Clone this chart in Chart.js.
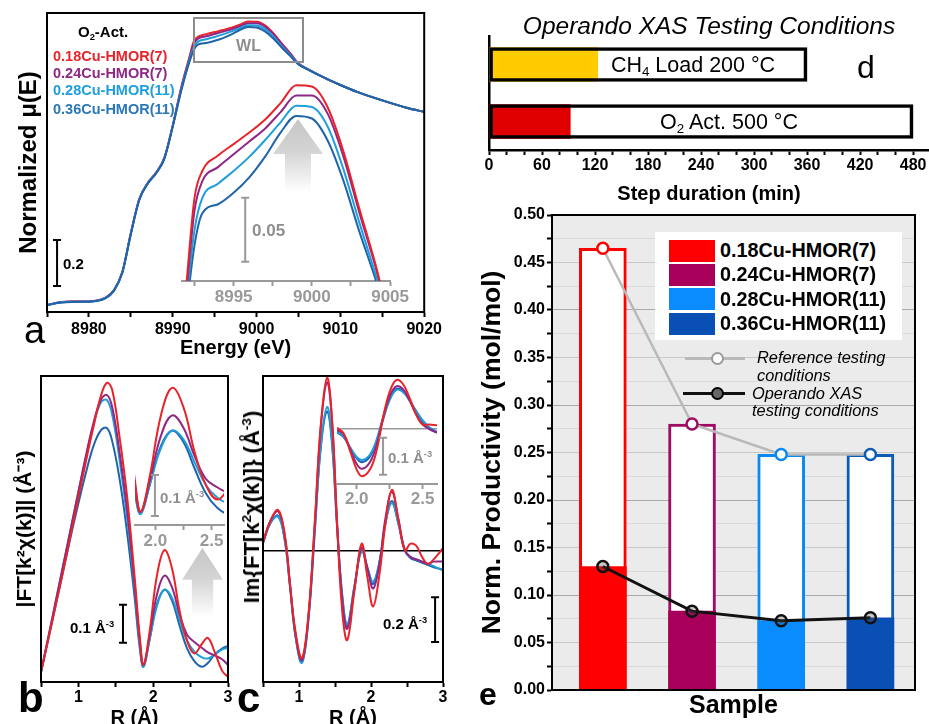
<!DOCTYPE html>
<html>
<head>
<meta charset="utf-8">
<script src="https://cdn.jsdelivr.net/npm/chart.js@4.4.1/dist/chart.umd.min.js"></script>
<style>
html, body { margin: 0; padding: 0; background: #fff; }
#fig { position: relative; width: 929px; height: 724px; overflow: hidden; font-family: 'Liberation Sans', Arial, Helvetica, sans-serif; }
#fig canvas { position: absolute; }
.t { position: absolute; white-space: nowrap; line-height: 1; font-weight: bold; }
.t sub { font-size: 0.62em; vertical-align: -0.3em; line-height: 0; }
.t sup { font-size: 0.62em; vertical-align: 0.6em; line-height: 0; }
.gray { color: #8f8f8f; }
.box { position: absolute; box-sizing: border-box; }
.arrow { position: absolute; background: linear-gradient(#c6c6c6, #d4d4d4 45%, #ffffff); }
</style>
</head>
<body>
<div id="fig">
  <canvas id="aMain" width="445" height="360" style="left:0;top:0"></canvas>
  <canvas id="aInset" width="240" height="255" style="left:170px;top:60px"></canvas>
  <canvas id="bMain" width="236" height="368" style="left:0;top:362px"></canvas>
  <canvas id="bInset" width="110" height="190" style="left:125px;top:370px"></canvas>
  <canvas id="cMain" width="215" height="368" style="left:236px;top:362px"></canvas>
  <canvas id="cInset" width="120" height="150" style="left:327px;top:370px"></canvas>
  <canvas id="dChart" width="459" height="206" style="left:470px;top:0"></canvas>
  <canvas id="eChart" width="459" height="528" style="left:470px;top:196px"></canvas>

  <!-- panel a annotations -->
  <div class="box" style="left:193px;top:17px;width:111px;height:46px;border:2px solid #8c8c8c"></div>
  <div class="t gray" style="left:193px;top:38px;width:111px;text-align:center;font-size:16px">WL</div>
  <div class="arrow" style="left:273px;top:119px;width:50px;height:73px;clip-path:polygon(50% 0,100% 48%,76% 48%,76% 100%,24% 100%,24% 48%,0 48%)"></div>
  <div class="t" style="left:78px;top:24px;font-size:15px">O<sub>2</sub>-Act.</div>
  <div class="t" style="left:53px;top:49px;font-size:14.5px;color:#e8232a">0.18Cu-HMOR(7)</div>
  <div class="t" style="left:53px;top:65.5px;font-size:14.5px;color:#8e2785">0.24Cu-HMOR(7)</div>
  <div class="t" style="left:53px;top:83px;font-size:14.5px;color:#1e9fdc">0.28Cu-HMOR(11)</div>
  <div class="t" style="left:53px;top:101.5px;font-size:14.5px;color:#2a78b8">0.36Cu-HMOR(11)</div>
  <div class="t" style="left:63px;top:256px;font-size:15px">0.2</div>
  <div class="t gray" style="left:252px;top:222px;font-size:17px">0.05</div>
  <div class="t" style="left:24px;top:311px;font-size:38px;font-weight:normal">a</div>

  <!-- panel b / c annotations -->
  <div class="arrow" style="left:182px;top:548px;width:41px;height:69px;clip-path:polygon(50% 0,100% 46%,76% 46%,76% 100%,24% 100%,24% 46%,0 46%)"></div>
  <div class="t" style="left:70px;top:620px;font-size:15px">0.1 Å<sup>-3</sup></div>
  <div class="t gray" style="left:160px;top:490px;font-size:15px">0.1 Å<sup>-3</sup></div>
  <div class="t" style="left:383px;top:616px;font-size:15px">0.2 Å<sup>-3</sup></div>
  <div class="t gray" style="left:388px;top:450px;font-size:15px">0.1 Å<sup>-3</sup></div>
  <div class="t" style="left:252px;top:507px;transform:translate(-50%,-50%) rotate(-90deg);font-size:22px">Im{FT[k<sup>2</sup>χ(k)]} (Å<sup>-3</sup>)</div>
  <div class="t" style="left:18px;top:677px;font-size:42px">b</div>
  <div class="t" style="left:237px;top:677px;font-size:42px">c</div>

  <!-- panel d annotations -->
  <div class="t" style="left:709px;top:14px;transform:translateX(-50%);font-size:24.5px;font-weight:normal;font-style:italic">Operando XAS Testing Conditions</div>
  <div class="t" style="left:693px;top:54.5px;transform:translateX(-50%);font-size:21.5px;font-weight:normal">CH<sub>4</sub> Load 200 °C</div>
  <div class="t" style="left:729px;top:111.5px;transform:translateX(-50%);font-size:21.5px;font-weight:normal">O<sub>2</sub> Act. 500 °C</div>
  <div class="t" style="left:857px;top:51px;font-size:32px;font-weight:normal">d</div>

  <!-- panel e legend -->
  <div class="box" style="left:655px;top:232px;width:247px;height:108px;background:#fff"></div>
  <div class="box" style="left:669px;top:239.5px;width:46px;height:22px;background:#ff0000"></div>
  <div class="box" style="left:669px;top:263.5px;width:46px;height:22px;background:#a8005a"></div>
  <div class="box" style="left:669px;top:288px;width:46px;height:22px;background:#0a8cff"></div>
  <div class="box" style="left:669px;top:312.5px;width:46px;height:22px;background:#0a50b4"></div>
  <div class="t" style="left:720px;top:241px;font-size:19.8px">0.18Cu-HMOR(7)</div>
  <div class="t" style="left:720px;top:265px;font-size:19.8px">0.24Cu-HMOR(7)</div>
  <div class="t" style="left:720px;top:290px;font-size:19.8px">0.28Cu-HMOR(11)</div>
  <div class="t" style="left:720px;top:314px;font-size:19.8px">0.36Cu-HMOR(11)</div>
  <div class="box" style="left:685px;top:357px;width:60px;height:3px;background:#b9b9b9"></div>
  <div class="box" style="left:710.5px;top:352px;width:13px;height:13px;border:2.5px solid #9a9a9a;border-radius:50%;background:#fff"></div>
  <div class="box" style="left:683px;top:391.5px;width:62px;height:3px;background:#111"></div>
  <div class="box" style="left:710.5px;top:386.5px;width:13px;height:13px;border:2.5px solid #000;border-radius:50%;background:#666"></div>
  <div class="t" style="left:757px;top:349px;font-size:16.4px;font-weight:normal;font-style:italic">Reference testing</div>
  <div class="t" style="left:757px;top:367px;font-size:16.4px;font-weight:normal;font-style:italic">conditions</div>
  <div class="t" style="left:752px;top:385px;font-size:16.4px;font-weight:normal;font-style:italic">Operando XAS</div>
  <div class="t" style="left:752px;top:402px;font-size:16.4px;font-weight:normal;font-style:italic">testing conditions</div>
  <div class="t" style="left:479px;top:678px;font-size:32px">e</div>
</div>

<script>
// series shared by panels a-c and e
const seriesNames = ['0.18Cu-HMOR(7)', '0.24Cu-HMOR(7)', '0.28Cu-HMOR(11)', '0.36Cu-HMOR(11)'];
const seriesColors = ['#e8232a', '#8e2785', '#1e9fdc', '#1f64a8'];

// a: XANES, normalized mu(E)
const energy = [8975, 8976.5, 8978, 8980, 8982, 8983, 8984, 8985, 8986, 8987, 8988, 8989, 8990, 8991, 8992, 8992.5,
  8993, 8994, 8995, 8996, 8997, 8998, 8999, 9000, 9001, 9002, 9003, 9004, 9005, 9006, 9008, 9010, 9012, 9015, 9018, 9020];
const muRed = [0.000, 0.012, 0.016, 0.016, 0.032, 0.065, 0.145, 0.312, 0.460, 0.530, 0.575, 0.640, 0.780, 0.945, 1.080, 1.145,
  1.166, 1.178, 1.187, 1.196, 1.206, 1.219, 1.233, 1.232, 1.216, 1.182, 1.138, 1.096, 1.050, 1.028, 0.990, 0.957, 0.927, 0.890, 0.857, 0.840];
const muPurple = [0.000, 0.012, 0.016, 0.016, 0.032, 0.065, 0.145, 0.312, 0.460, 0.530, 0.575, 0.640, 0.780, 0.940, 1.074, 1.135,
  1.158, 1.169, 1.179, 1.189, 1.199, 1.212, 1.225, 1.225, 1.211, 1.178, 1.135, 1.094, 1.050, 1.028, 0.990, 0.957, 0.927, 0.890, 0.857, 0.840];
const muLight = [0.000, 0.011, 0.015, 0.015, 0.031, 0.064, 0.144, 0.310, 0.458, 0.528, 0.573, 0.638, 0.778, 0.935, 1.066, 1.120,
  1.145, 1.156, 1.166, 1.177, 1.190, 1.204, 1.217, 1.216, 1.201, 1.168, 1.127, 1.088, 1.048, 1.027, 0.990, 0.957, 0.927, 0.890, 0.857, 0.840];
const muDark = [0.000, 0.010, 0.014, 0.015, 0.030, 0.063, 0.143, 0.308, 0.456, 0.527, 0.572, 0.636, 0.776, 0.930, 1.058, 1.108,
  1.133, 1.140, 1.149, 1.161, 1.177, 1.196, 1.209, 1.207, 1.190, 1.159, 1.120, 1.084, 1.046, 1.026, 0.990, 0.957, 0.927, 0.890, 0.857, 0.840];

// b: |FT[k2 chi(k)]|
const rFT = [0.5, 0.6, 0.7, 0.8, 0.9, 1.0, 1.1, 1.2, 1.3, 1.38, 1.45, 1.55, 1.65, 1.75, 1.82, 1.87, 1.95, 2.05, 2.15, 2.25,
  2.35, 2.45, 2.55, 2.65, 2.73, 2.82, 2.92, 3.0];
const ftRed = [0.026, 0.115, 0.205, 0.295, 0.39, 0.485, 0.58, 0.67, 0.752, 0.787, 0.77, 0.645, 0.49, 0.28, 0.12, 0.045, 0.13, 0.28,
  0.347, 0.30, 0.19, 0.11, 0.075, 0.10, 0.116, 0.08, 0.03, 0.013];
const ftPurple = [0.026, 0.12, 0.215, 0.31, 0.405, 0.5, 0.595, 0.68, 0.742, 0.755, 0.725, 0.605, 0.455, 0.26, 0.11, 0.045, 0.12, 0.23,
  0.28, 0.25, 0.18, 0.125, 0.105, 0.09, 0.078, 0.07, 0.06, 0.045];
const ftLight = [0.026, 0.12, 0.215, 0.31, 0.405, 0.5, 0.59, 0.675, 0.735, 0.742, 0.705, 0.585, 0.435, 0.25, 0.10, 0.04, 0.11, 0.20,
  0.243, 0.222, 0.165, 0.11, 0.08, 0.065, 0.062, 0.072, 0.085, 0.09];
const ftDark = [0.026, 0.115, 0.205, 0.295, 0.385, 0.47, 0.55, 0.62, 0.662, 0.668, 0.635, 0.535, 0.395, 0.225, 0.09, 0.04, 0.11, 0.205,
  0.243, 0.215, 0.15, 0.09, 0.055, 0.04, 0.05, 0.072, 0.088, 0.095];

// c: Im{FT[k2 chi(k)]}
const rIm = [0.5, 0.6, 0.71, 0.8, 0.875, 0.95, 1.04, 1.13, 1.22, 1.3, 1.39, 1.46, 1.53, 1.6, 1.67, 1.77, 1.87, 1.95, 2.03, 2.12,
  2.2, 2.29, 2.38, 2.47, 2.55, 2.63, 2.71, 2.79, 2.87, 3.0];
const imRed = [0.035, 0.13, 0.18, 0.075, -0.15, -0.36, -0.48, -0.29, 0.13, 0.55, 0.77, 0.58, 0.11, -0.27, -0.40, -0.18, 0.03, -0.12,
  -0.25, -0.10, 0.12, 0.27, 0.14, 0.0, 0.03, 0.02, -0.03, -0.06, -0.04, 0.01];
const imPurple = [0.035, 0.13, 0.175, 0.07, -0.15, -0.37, -0.49, -0.30, 0.12, 0.54, 0.75, 0.57, 0.12, -0.22, -0.35, -0.17, 0.013, -0.08,
  -0.17, -0.055, 0.143, 0.26, 0.14, 0.0, -0.03, -0.04, -0.05, -0.06, -0.05, -0.05];
const imLight = [0.035, 0.12, 0.15, 0.05, -0.16, -0.38, -0.50, -0.31, 0.09, 0.46, 0.64, 0.48, 0.10, -0.20, -0.33, -0.16, 0.0, -0.075,
  -0.14, -0.045, 0.12, 0.21, 0.12, 0.0, -0.03, -0.04, -0.05, -0.06, -0.07, -0.09];
const imDark = [0.035, 0.12, 0.155, 0.05, -0.16, -0.38, -0.50, -0.31, 0.09, 0.45, 0.62, 0.47, 0.10, -0.20, -0.34, -0.16, 0.0, -0.08,
  -0.15, -0.05, 0.12, 0.22, 0.12, 0.0, -0.035, -0.045, -0.055, -0.065, -0.075, -0.085];

// c inset
const rImZoom = [1.85, 1.9, 1.95, 2.0, 2.04, 2.1, 2.15, 2.2, 2.25, 2.3, 2.35, 2.4, 2.45, 2.5, 2.55, 2.61];
const izRed = [0.003, -0.012, -0.06, -0.11, -0.128, -0.11, -0.06, 0.03, 0.10, 0.132, 0.122, 0.085, 0.04, 0.012, 0.012, 0.01];
const izPurple = [-0.003, -0.015, -0.055, -0.095, -0.108, -0.09, -0.045, 0.03, 0.088, 0.115, 0.108, 0.078, 0.04, 0.012, 0.0, -0.01];
const izLight = [-0.008, -0.02, -0.05, -0.076, -0.084, -0.07, -0.03, 0.03, 0.078, 0.105, 0.10, 0.078, 0.05, 0.024, 0.005, -0.008];
const izDark = [-0.01, -0.022, -0.052, -0.08, -0.09, -0.075, -0.035, 0.025, 0.08, 0.108, 0.103, 0.078, 0.047, 0.02, 0.0, -0.01];

// d: operando XAS steps (min)
const steps = ['CH4 Load 200 °C', 'O2 Act. 500 °C'];
const stepTotal = [360, 480];
const stepRamp = [123, 92];
const stepColors = ['#ffcc00', '#e00000'];

// e: normalized productivity (mol/mol)
const refProd = [0.465, 0.28, 0.248, 0.248];
const operandoProd = [0.13, 0.083, 0.073, 0.076];
const outlineColors = ['#ff0000', '#9e0d62', '#0a8af0', '#0a5cb4'];
const fillColors = ['#ff0000', '#a8005a', '#0a8cff', '#0a50b4'];

const FONT = "'Liberation Sans', Arial, Helvetica, sans-serif";
Chart.defaults.font.family = FONT;
Chart.defaults.color = '#000';
Chart.defaults.animation = false;
Chart.defaults.events = [];
Chart.defaults.plugins.legend.display = false;
Chart.defaults.plugins.tooltip.enabled = false;

function isMultiple(v, m) {
	return Math.abs(v / m - Math.round(v / m)) < 1e-6;
}

// box around the plot area
const framePlugin = {
	id: 'frame',
	afterDraw(chart, args, opts) {
		if (!opts || !opts.color) return;
		const { ctx, chartArea: a } = chart;
		ctx.save();
		ctx.strokeStyle = opts.color;
		ctx.lineWidth = 2;
		ctx.strokeRect(a.left, a.top, a.right - a.left, a.bottom - a.top);
		ctx.restore();
	}
};

const plotBgPlugin = {
	id: 'plotBg',
	beforeDraw(chart, args, opts) {
		if (!opts || !opts.color) return;
		const { ctx, chartArea: a } = chart;
		ctx.save();
		ctx.fillStyle = opts.color;
		ctx.fillRect(a.left, a.top, a.right - a.left, a.bottom - a.top);
		ctx.restore();
	}
};

// vertical scale bar in data units
const scaleBarPlugin = {
	id: 'scaleBar',
	afterDatasetsDraw(chart, args, opts) {
		if (!opts || opts.x === undefined) return;
		const ctx = chart.ctx;
		const x = chart.scales.x.getPixelForValue(opts.x);
		const y0 = chart.scales.y.getPixelForValue(opts.from);
		const y1 = chart.scales.y.getPixelForValue(opts.to);
		ctx.save();
		ctx.strokeStyle = opts.color;
		ctx.lineWidth = 2;
		ctx.beginPath();
		ctx.moveTo(x, y0); ctx.lineTo(x, y1);
		ctx.moveTo(x - 4, y0); ctx.lineTo(x + 4, y0);
		ctx.moveTo(x - 4, y1); ctx.lineTo(x + 4, y1);
		ctx.stroke();
		ctx.restore();
	}
};

function curveChart(id, xs, series, o) {
	const zero = o.zeroLine;
	return new Chart(document.getElementById(id), {
		type: 'line',
		data: {
			datasets: series.map((ys, i) => ({
				label: seriesNames[i],
				data: xs.map((x, j) => ({ x: x, y: ys[j] })),
				borderColor: seriesColors[i],
				borderWidth: 2,
				pointRadius: 0,
				tension: o.monotone ? 0 : 0.4,
				cubicInterpolationMode: o.monotone ? 'monotone' : 'default',
				order: o.blueOnTop ? series.length - 1 - i : i
			}))
		},
		options: {
			responsive: false,
			layout: { padding: o.padding },
			scales: {
				x: {
					type: 'linear',
					min: o.xMin,
					max: o.xMax,
					afterFit: s => { s.height = o.xHeight; },
					border: { color: o.axisColor, width: 2 },
					grid: { drawOnChartArea: false, tickLength: 5, tickWidth: 2, tickColor: o.axisColor },
					ticks: {
						stepSize: o.step,
						autoSkip: false,
						includeBounds: false,
						maxRotation: 0,
						padding: o.tickPad,
						color: o.axisColor,
						font: { size: o.tickSize, weight: 'bold' },
						callback: v => isMultiple(v, o.labelEvery) ? v.toFixed(o.decimals) : ''
					},
					title: { display: !!o.xTitle, text: o.xTitle, font: { size: 20, weight: 'bold' }, padding: 0 }
				},
				y: {
					min: o.yMin,
					max: o.yMax,
					afterFit: s => { s.width = o.yWidth || 0; },
					border: { display: !!o.yTitle, color: '#000', width: 2 },
					grid: {
						display: !!zero,
						drawTicks: false,
						lineWidth: 1.5,
						color: c => (zero && c.tick && Math.abs(c.tick.value) < 1e-9) ? zero : 'rgba(0,0,0,0)'
					},
					ticks: { display: false, stepSize: o.yStep },
					title: {
						display: !!o.yTitle,
						text: o.yTitle || '',
						font: { size: o.yTitleSize || 21, weight: 'bold' },
						padding: { top: o.yTitlePad || 0, bottom: 0 }
					}
				}
			},
			plugins: {
				frame: { color: o.frame },
				scaleBar: o.bar || {}
			}
		},
		plugins: [framePlugin, scaleBarPlugin]
	});
}

// a
curveChart('aMain', energy, [muRed, muPurple, muLight, muDark], {
	xMin: 8975, xMax: 9020, step: 5, labelEvery: 10, decimals: 0,
	yMin: -0.03, yMax: 1.27,
	padding: { left: 0, right: 10, top: 13, bottom: 0 }, yWidth: 47, xHeight: 48,
	axisColor: '#000', tickSize: 16, tickPad: 3,
	xTitle: 'Energy (eV)', yTitle: 'Normalized μ(E)', yTitleSize: 24, yTitlePad: 15,
	frame: '#000', monotone: true, blueOnTop: true,
	bar: { x: 8976.2, from: 0.083, to: 0.283, color: '#000' }
});
curveChart('aInset', energy, [muRed, muPurple, muLight, muDark], {
	xMin: 8991.7, xMax: 9005, step: 2.5, labelEvery: 5, decimals: 0,
	yMin: 1.08, yMax: 1.241,
	padding: { left: 12, right: 14, top: 15, bottom: 0 }, xHeight: 34,
	axisColor: '#999', tickSize: 17, tickPad: 1,
	monotone: true,
	bar: { x: 8995.74, from: 1.095, to: 1.145, color: '#999' }
});

// b
curveChart('bMain', rFT, [ftRed, ftPurple, ftLight, ftDark], {
	xMin: 0.5, xMax: 3, step: 0.5, labelEvery: 1, decimals: 0,
	yMin: 0, yMax: 0.805,
	padding: { left: 0, right: 8, top: 14, bottom: 0 }, yWidth: 41, xHeight: 48,
	axisColor: '#000', tickSize: 16, tickPad: 1,
	xTitle: 'R (Å)', yTitle: '|FT[k²χ(k)]| (Å⁻³)', yTitlePad: 13,
	frame: '#000',
	bar: { x: 1.596, from: 0.103, to: 0.203, color: '#000' }
});
curveChart('bInset', rFT, [ftRed, ftPurple, ftLight, ftDark], {
	xMin: 1.82, xMax: 2.61, step: 0.25, labelEvery: 0.5, decimals: 1,
	yMin: 0.013, yMax: 0.376,
	padding: { left: 10, right: 11, top: 6, bottom: 0 }, xHeight: 35,
	axisColor: '#999', tickSize: 17, tickPad: 1,
	bar: { x: 1.997, from: 0.035, to: 0.135, color: '#999' }
});

// c (y title is the rotated text block in the page)
curveChart('cMain', rIm, [imRed, imPurple, imLight, imDark], {
	xMin: 0.5, xMax: 3, step: 0.5, labelEvery: 1, decimals: 0,
	yMin: -0.587, yMax: 0.778, yStep: 0.1,
	padding: { left: 0, right: 8, top: 14, bottom: 0 }, yWidth: 27, xHeight: 48,
	axisColor: '#000', tickSize: 16, tickPad: 1,
	xTitle: 'R (Å)',
	frame: '#000', zeroLine: '#000',
	bar: { x: 2.89, from: -0.409, to: -0.209, color: '#000' }
});
curveChart('cInset', rImZoom, [izRed, izPurple, izLight, izDark], {
	xMin: 1.85, xMax: 2.61, step: 0.25, labelEvery: 0.5, decimals: 1,
	yMin: -0.149, yMax: 0.143, yStep: 0.05,
	padding: { left: 10, right: 10, top: 6, bottom: 0 }, xHeight: 36,
	axisColor: '#999', tickSize: 17, tickPad: 0,
	zeroLine: '#999',
	bar: { x: 2.2, from: -0.124, to: -0.024, color: '#999' }
});

// d
new Chart(document.getElementById('dChart'), {
	type: 'bar',
	data: {
		labels: steps,
		datasets: [
			{ label: 'Step', data: stepTotal, backgroundColor: 'rgba(0,0,0,0)', borderColor: '#000', borderWidth: 3,
				borderSkipped: false, barThickness: 34, grouped: false, order: 0 },
			{ label: 'Ramp', data: stepRamp, backgroundColor: stepColors, borderWidth: 0,
				barThickness: 34, grouped: false, order: 1 }
		]
	},
	options: {
		indexAxis: 'y',
		responsive: false,
		layout: { padding: { left: 0, right: 0, top: 36, bottom: 0 } },
		scales: {
			x: {
				type: 'linear', min: 0, max: 498,
				afterFit: s => { s.height = 56; },
				border: { color: '#000', width: 2.5 },
				grid: { drawOnChartArea: false, tickLength: 5, tickWidth: 2, tickColor: '#000' },
				ticks: {
					stepSize: 20, autoSkip: false, includeBounds: false, maxRotation: 0, padding: 1,
					font: { size: 16, weight: 'bold' },
					callback: v => v % 60 === 0 ? v : ''
				},
				title: { display: true, text: 'Step duration (min)', font: { size: 20, weight: 'bold' }, padding: 0 }
			},
			y: {
				afterFit: s => { s.width = 19; },
				ticks: { display: false },
				grid: { display: false },
				border: { color: '#000', width: 2.5 }
			}
		}
	}
});

// e
function gridShade(c) {
	if (!c.tick) return 'rgba(0,0,0,0)';
	const k = Math.round(c.tick.value / 0.025);
	if (k === 0 || k === 20) return 'rgba(0,0,0,0)';
	if (k % 4 === 0) return '#a9a9a9';
	return k % 2 === 0 ? '#c9c9c9' : '#dadada';
}

new Chart(document.getElementById('eChart'), {
	type: 'bar',
	data: {
		datasets: [
			{ type: 'line', label: 'Operando XAS testing conditions',
				data: seriesNames.map((s, i) => ({ x: i + 1, y: operandoProd[i] })),
				borderColor: '#111', borderWidth: 3, pointRadius: 5.5, pointBorderWidth: 2.5,
				pointBorderColor: '#111', pointBackgroundColor: 'rgba(70,70,70,0.3)', order: 0 },
			{ type: 'line', label: 'Reference testing conditions',
				data: seriesNames.map((s, i) => ({ x: i + 1, y: refProd[i] })),
				borderColor: '#b9b9b9', borderWidth: 2.5,
				pointRadius: 5.5, pointBorderWidth: 2.5, pointBorderColor: outlineColors,
				pointBackgroundColor: '#fff', order: 1 },
			{ label: 'Operando', data: seriesNames.map((s, i) => ({ x: i + 1, y: operandoProd[i] })),
				backgroundColor: fillColors, borderWidth: 0, barThickness: 47, grouped: false, order: 2 },
			{ label: 'Reference', data: seriesNames.map((s, i) => ({ x: i + 1, y: refProd[i] })),
				backgroundColor: '#fff', borderColor: outlineColors, borderWidth: 3,
				barThickness: 47, grouped: false, order: 3 }
		]
	},
	options: {
		responsive: false,
		layout: { padding: { left: 0, right: 14, top: 19, bottom: 0 } },
		scales: {
			x: {
				type: 'linear', min: 0.43, max: 4.5, offset: false,
				afterFit: s => { s.height = 34; },
				ticks: { display: false },
				grid: { display: false, offset: false },
				border: { color: '#000', width: 2 },
				title: { display: true, text: 'Sample', font: { size: 25, weight: 'bold' }, padding: { top: 0, bottom: 3 } }
			},
			y: {
				min: 0, max: 0.5,
				afterFit: s => { s.width = 82; },
				border: { color: '#000', width: 2 },
				grid: { color: gridShade, lineWidth: 1, tickLength: 5, tickWidth: 2, tickColor: '#000' },
				ticks: {
					stepSize: 0.025, autoSkip: false, padding: 2,
					font: { size: 16, weight: 'bold' },
					callback: v => isMultiple(v, 0.05) ? v.toFixed(2) : ''
				},
				title: { display: true, text: 'Norm. Productivity (mol/mol)', font: { size: 26.5, weight: 'bold' },
					padding: { top: 7, bottom: 0 } }
			}
		},
		plugins: {
			frame: { color: '#000' },
			plotBg: { color: '#ebebeb' }
		}
	},
	plugins: [plotBgPlugin, framePlugin]
});
</script>
</body>
</html>
